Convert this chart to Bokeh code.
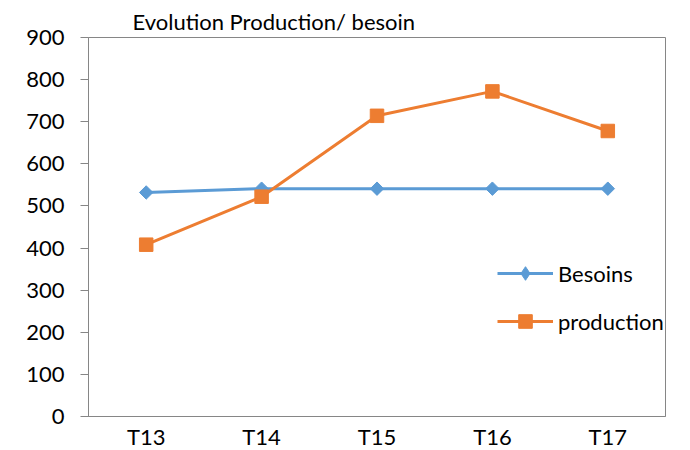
import math
from bokeh.plotting import figure
from bokeh.models import Legend, LegendItem, FixedTicker, Range1d
from bokeh.embed import file_html
from bokeh.resources import INLINE

categories = ["T13", "T14", "T15", "T16", "T17"]
besoins = [532, 541, 541, 541, 541]
production = [408, 522, 714, 772, 678]
y_ticks = [0, 100, 200, 300, 400, 500, 600, 700, 800, 900]

FONT = "Lato"
FS = "22px"
p = figure(x_range=categories, y_range=Range1d(0, 900),
           frame_width=577, frame_height=379,
           output_backend="svg", toolbar_location=None,
           min_border_left=88, min_border_right=17, min_border_top=37, min_border_bottom=34,
           title="Evolution Production/ besoin")
p.title.text_font = FONT
p.title.text_font_size = FS
p.title.text_font_style = "normal"
p.title.text_color = "black"
p.title.align = "left"
p.title.offset = 44
p.title.standoff = 6

p.xgrid.visible = False
p.ygrid.visible = False
p.outline_line_color = "#868686"
p.outline_line_width = 1

p.yaxis.ticker = FixedTicker(ticks=y_ticks)
p.yaxis.major_tick_in = 0
p.yaxis.major_tick_out = 8
p.yaxis.minor_tick_line_color = None
p.yaxis.axis_line_color = "#868686"
p.yaxis.major_tick_line_color = "#868686"
p.yaxis.major_label_text_font = FONT
p.yaxis.major_label_text_font_size = FS
p.yaxis.major_label_text_color = "black"
p.yaxis.major_label_standoff = 16

p.xaxis.major_tick_in = 0
p.xaxis.major_tick_out = 0
p.xaxis.axis_line_color = "#868686"
p.xaxis.major_label_text_font = FONT
p.xaxis.major_label_text_font_size = FS
p.xaxis.major_label_text_color = "black"
p.xaxis.major_label_standoff = 6

blue = "#5B9BD5"
orange = "#ED7D31"
l1 = p.line(categories, besoins, line_color=blue, line_width=3)
# diamond used for the legend symbol (hidden under the rotated square in the plot)
m1_leg = p.scatter(categories, besoins, marker="diamond", size=11,
                   fill_color=blue, line_color=blue)
m1 = p.scatter(categories, besoins, marker="square", size=9.5, angle=math.pi / 4,
               fill_color=blue, line_color=blue)
l2 = p.line(categories, production, line_color=orange, line_width=3)
m2 = p.scatter(categories, production, marker="square", size=13.5, fill_color=orange, line_color=orange)

legend = Legend(items=[LegendItem(label="Besoins", renderers=[l1, m1_leg]),
                       LegendItem(label="production", renderers=[l2, m2])],
                location=(409, 78), orientation="vertical",
                glyph_width=56, glyph_height=34, label_height=34, spacing=14,
                label_standoff=5, padding=0, margin=0,
                border_line_color=None, background_fill_alpha=0,
                label_text_font=FONT, label_text_font_size=FS, label_text_color="black")
p.add_layout(legend, "center")

open("out.html", "w").write(file_html(p, INLINE))
